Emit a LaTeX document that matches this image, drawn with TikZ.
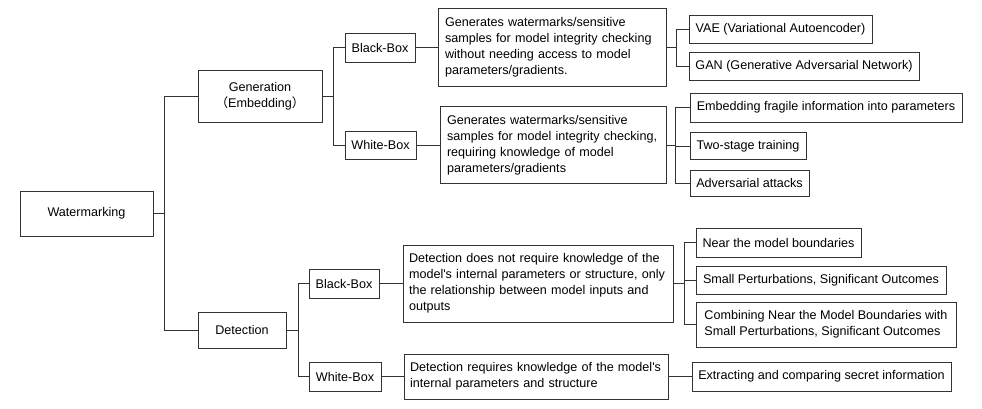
\documentclass[tikz,border=0pt]{standalone}
\usepackage{fontspec}
\setmainfont{Liberation Sans}
\newfontfamily\cjkf{Noto Sans CJK SC}
\begin{document}
\begin{tikzpicture}[x=1pt,y=-1pt,
  font=\fontsize{12.6}{16}\selectfont,
  cbox/.style 2 args={draw=black!80, line width=0.8pt, minimum width=#1, minimum height=#2, inner sep=0pt, align=center},
  abox/.style 2 args={draw=black!80, line width=0.8pt, minimum width=#1, minimum height=#2, inner sep=0pt, align=left},
  lbox/.style 2 args={draw=black!80, line width=0.8pt, text width=#1, minimum height=#2, inner xsep=7pt, inner ysep=0pt, align=left},
  conn/.style={draw=black!80, line width=0.8pt}]
\useasboundingbox (0,0) rectangle (982,408);

% level 0-1
\node[cbox={133pt}{45pt}] (wm) at (86.5,213.5) {Watermarking};
\node[cbox={124pt}{52pt}] (gen) at (260,96) {Generation\\{\cjkf （}Embedding{\cjkf ）}};
\node[cbox={88pt}{36pt}] (det) at (242,330) {Detection};

% generation branch
\node[cbox={70pt}{29pt}] (gbb) at (380,47.5) {Black-Box};
\node[cbox={71pt}{28pt}] (gwb) at (380.5,145) {White-Box};
\node[lbox={214pt}{78pt}] (gd1) at (552,47.5) {\mbox{Generates watermarks/sensitive}\\\mbox{samples for model integrity checking}\\\mbox{without needing access to model}\\\mbox{parameters/gradients.}};
\node[lbox={212pt}{77pt}] (gd2) at (553,145) {\mbox{Generates watermarks/sensitive}\\\mbox{samples for model integrity checking,}\\\mbox{requiring knowledge of model}\\\mbox{parameters/gradients}};
\node[cbox={183pt}{28pt}] (vae) at (780.5,29) {VAE (Variational Autoencoder)};
\node[cbox={230pt}{28pt}] (gan) at (804,66) {GAN (Generative Adversarial Network)};
\node[cbox={272pt}{29pt}] (emb) at (826,107.5) {Embedding fragile information into parameters};
\node[cbox={116pt}{27pt}] (two) at (748,146) {Two-stage training};
\node[cbox={119pt}{26pt}] (adv) at (749.5,183) {Adversarial attacks};

% detection branch
\node[cbox={70pt}{29pt}] (dbb) at (344,283.5) {Black-Box};
\node[cbox={72pt}{29pt}] (dwb) at (345,376.5) {White-Box};
\node[lbox={258pt}{77pt}, inner xsep=6pt] (dd1) at (538,283.5) {\mbox{Detection does not require knowledge of the}\\\mbox{model\textquotesingle s internal parameters or structure, only}\\\mbox{the relationship between model inputs and}\\\mbox{outputs}};
\node[lbox={252pt}{45pt}, inner xsep=6pt] (dd2) at (536,376.5) {\mbox{Detection requires knowledge of the model\textquotesingle s}\\\mbox{internal parameters and structure}};
\node[cbox={165pt}{29pt}] (near) at (778.5,242.5) {Near the model boundaries};
\node[cbox={250pt}{28pt}] (small) at (821,280) {Small Perturbations, Significant Outcomes};
\node[abox={260pt}{45pt}] (comb) at (826,324.5) {Combining Near the Model Boundaries with\\Small Perturbations, Significant Outcomes};
\node[cbox={259pt}{29pt}] (extr) at (821.5,376.5) {Extracting and comparing secret information};

% junctions
\coordinate (j1) at (164,213.5);
\coordinate (j2) at (333,96);
\coordinate (j3) at (676,47.5);
\coordinate (j4) at (675,145);
\coordinate (j5) at (298,330);
\coordinate (j6) at (684,283.5);

% connectors
\draw[conn] (wm.east) -- (j1);
\draw[conn] (j1) |- (gen.west);
\draw[conn] (j1) |- (det.west);
\draw[conn] (gen.east) -- (j2);
\draw[conn] (j2) |- (gbb.west);
\draw[conn] (j2) |- (gwb.west);
\draw[conn] (gbb.east) -- (gd1.west);
\draw[conn] (gwb.east) -- (gd2.west);
\draw[conn] (gd1.east) -- (j3);
\draw[conn] (j3) |- (vae.west);
\draw[conn] (j3) |- (gan.west);
\draw[conn] (gd2.east) -- (j4);
\draw[conn] (j4) |- (emb.west);
\draw[conn] (j4) |- (two.west);
\draw[conn] (j4) |- (adv.west);
\draw[conn] (det.east) -- (j5);
\draw[conn] (j5) |- (dbb.west);
\draw[conn] (j5) |- (dwb.west);
\draw[conn] (dbb.east) -- (dd1.west);
\draw[conn] (dwb.east) -- (dd2.west);
\draw[conn] (dd1.east) -- (j6);
\draw[conn] (j6) |- (near.west);
\draw[conn] (j6) |- (small.west);
\draw[conn] (j6) |- (comb.west);
\draw[conn] (dd2.east) -- (extr.west);
\end{tikzpicture}
\end{document}
